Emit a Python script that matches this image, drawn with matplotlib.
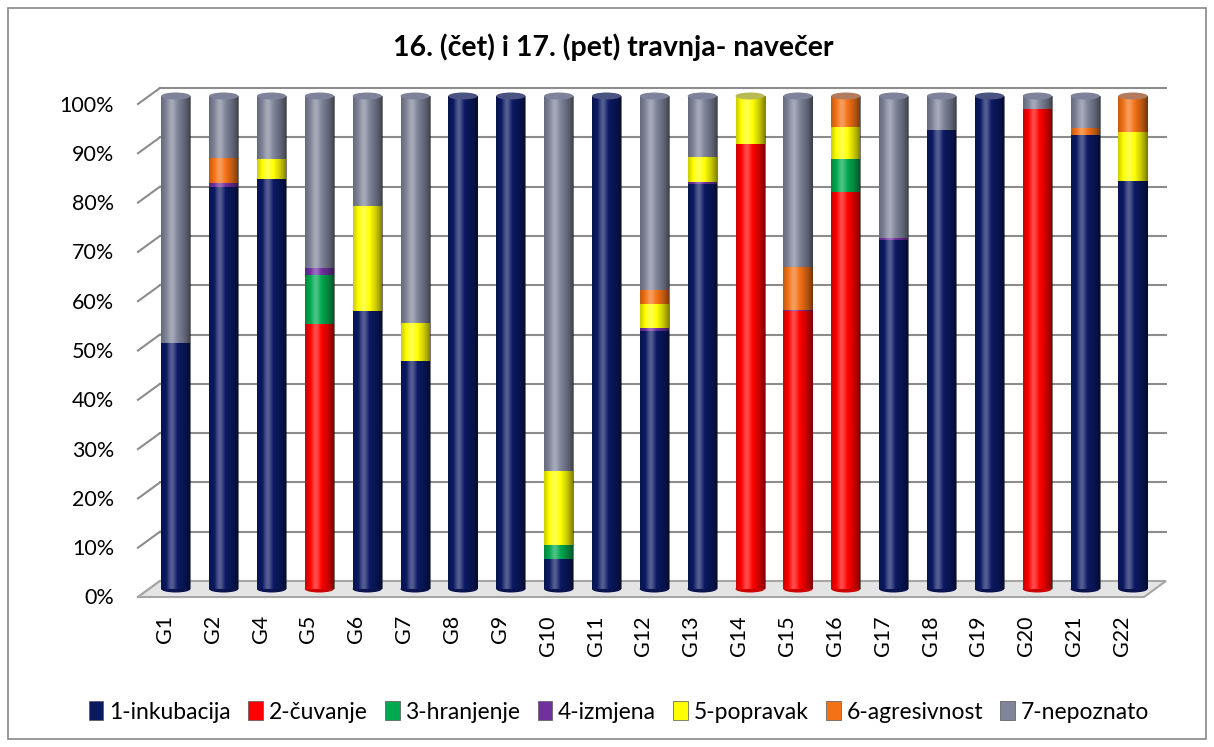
import matplotlib as mpl
mpl.use('Agg')
import matplotlib.pyplot as plt
from matplotlib.patches import Polygon, Ellipse, Rectangle, Patch
from matplotlib.colors import to_rgb
import numpy as np

plt.rcParams['font.family'] = ['Lato', 'DejaVu Sans']

# data (percent of observations per nest)
groups = ['G1', 'G2', 'G4', 'G5', 'G6', 'G7', 'G8', 'G9', 'G10', 'G11', 'G12',
          'G13', 'G14', 'G15', 'G16', 'G17', 'G18', 'G19', 'G20', 'G21', 'G22']
inkubacija = [50, 81.5, 83.2, 0, 56.3, 46.3, 100, 100, 6.0, 100, 52.3,
              82.2, 0, 0, 0, 70.8, 93.2, 100, 0, 92.1, 82.8]
cuvanje = [0, 0, 0, 53.7, 0, 0, 0, 0, 0, 0, 0,
           0, 90.2, 56.4, 80.6, 0, 0, 0, 97.3, 0, 0]
hranjenje = [0, 0, 0, 10.0, 0, 0, 0, 0, 2.9, 0, 0,
             0, 0, 0, 6.6, 0, 0, 0, 0, 0, 0]
izmjena = [0, 0.9, 0, 1.4, 0, 0, 0, 0, 0, 0, 0.6,
           0.3, 0, 0.2, 0, 0.3, 0, 0, 0, 0, 0]
popravak = [0, 0, 4.1, 0, 21.4, 7.6, 0, 0, 15.1, 0, 4.9,
            5.1, 9.8, 0, 6.5, 0, 0, 0, 0, 0, 9.9]
agresivnost = [0, 5.1, 0, 0, 0, 0, 0, 0, 0, 0, 2.8,
               0, 0, 8.7, 6.3, 0, 0, 0, 0, 1.5, 7.3]
nepoznato = [50, 12.5, 12.7, 34.9, 22.3, 46.1, 0, 0, 76.0, 0, 39.4,
             12.4, 0, 34.7, 0, 28.9, 6.8, 0, 2.7, 6.4, 0]

series = [inkubacija, cuvanje, hranjenje, izmjena, popravak, agresivnost, nepoznato]
labels = ['1-inkubacija', '2-čuvanje', '3-hranjenje', '4-izmjena',
          '5-popravak', '6-agresivnost', '7-nepoznato']
colors = ['#0b1963', '#ff0000', '#00a84f', '#7030a0', '#ffff00', '#f47216', '#80849a']
yticks = list(range(0, 101, 10))

W, H, DPI = 1214, 747, 100
fig = plt.figure(figsize=(W / DPI, H / DPI), dpi=DPI)
fig.patch.set_facecolor('white')
fig.patches.append(Rectangle((8 / W, 8 / H), (W - 16) / W, (H - 16) / H,
                             transform=fig.transFigure, fill=False,
                             edgecolor='#888888', lw=1.2))

# axes placed in the "bar plane" of the pseudo-3D box
ax_l, ax_r, ax_b, ax_t = 149, 1155, 589, 96
ax = fig.add_axes([ax_l / W, (H - ax_b) / H, (ax_r - ax_l) / W, (ax_b - ax_t) / H])
x0, x1 = -0.56, 20.46
ux = (x1 - x0) / (ax_r - ax_l)      # data units per pixel
uy = 100 / (ax_b - ax_t)
ax.set_axis_off()

# depth offsets: back wall and front edge
bdx, bdy = 11 * ux, 8 * uy
grid_c = '#8c8c8c'

# floor
floor = Polygon([(x0 - bdx, -bdy), (x1 - bdx, -bdy), (x1 + bdx, bdy), (x0 + bdx, bdy)],
                closed=True, facecolor='#e4e4e4', edgecolor='#a6a6a6', lw=1.5,
                zorder=0.5, clip_on=False)
ax.add_patch(floor)

for v in yticks:
    if v > 0:
        ax.plot([x0 + bdx, x1 + bdx], [v + bdy, v + bdy], color=grid_c, lw=1.5,
                zorder=0.4, clip_on=False)
    ax.plot([x0 - bdx, x0 + bdx], [v - bdy, v + bdy], color=grid_c, lw=1.5,
            zorder=0.4, clip_on=False)
    ax.text(x0 - bdx - 24 * ux, v - bdy - 1.5 * uy, f'{v}%', ha='right', va='center',
            fontsize=15.5)

x = np.arange(len(groups))
width = 0.61
bottom = np.zeros(len(groups))
for vals, lab, c in zip(series, labels, colors):
    vals = np.array(vals, dtype=float)
    ax.bar(x, vals, width, bottom=bottom, color=c, label=lab, zorder=2, linewidth=0)
    bottom += vals

# cylinder shading
t = np.linspace(0, 1, 120)
s = 0.30 * np.exp(-((t - 0.36) / 0.15) ** 2) - 0.55 * np.clip(np.abs(t - 0.38) / 0.62, 0, 1) ** 2
shade = np.zeros((1, t.size, 4))
shade[0, :, :3] = (s > 0)[:, None].astype(float)
shade[0, :, 3] = np.abs(s)

cap_gray = np.array(to_rgb('#7d8299'))
for i in x:
    top = bottom[i]
    present = [colors[k] for k in range(len(series)) if series[k][i] > 0]
    # rounded base of the cylinder
    base = 0.8 * np.array(to_rgb(present[0]))
    ax.add_patch(Ellipse((i, 0), width, 7 * uy, facecolor=base, edgecolor='none',
                         zorder=1.8, clip_on=False))
    ax.imshow(shade, extent=[i - width / 2, i + width / 2, 0, top], aspect='auto',
              interpolation='bilinear', zorder=3)
    cap = 0.45 * np.array(to_rgb(present[-1])) + 0.55 * cap_gray
    ax.add_patch(Ellipse((i, top), width, 7 * uy, facecolor=cap, edgecolor='none',
                         zorder=4, clip_on=False))
    ax.text(i - bdx, -bdy - 18 * uy, groups[i], rotation=90, ha='center', va='top',
            fontsize=15.5)

ax.set_xlim(x0, x1)
ax.set_ylim(0, 100)

fig.text(613 / W, 1 - 47 / H, '16. (čet) i 17. (pet) travnja- navečer',
         ha='center', va='center', fontsize=20.5, fontweight='bold')

handles = [Patch(facecolor=c, edgecolor='#555555', lw=0.5) for c in colors]
fig.legend(handles, labels, loc='center', bbox_to_anchor=(619 / W, 1 - 712 / H),
           ncol=7, frameon=False, fontsize=16.5, handlelength=0.65, handleheight=0.9,
           handletextpad=0.25, columnspacing=0.75)

fig.savefig('out.png', dpi=DPI)
plt.close(fig)
